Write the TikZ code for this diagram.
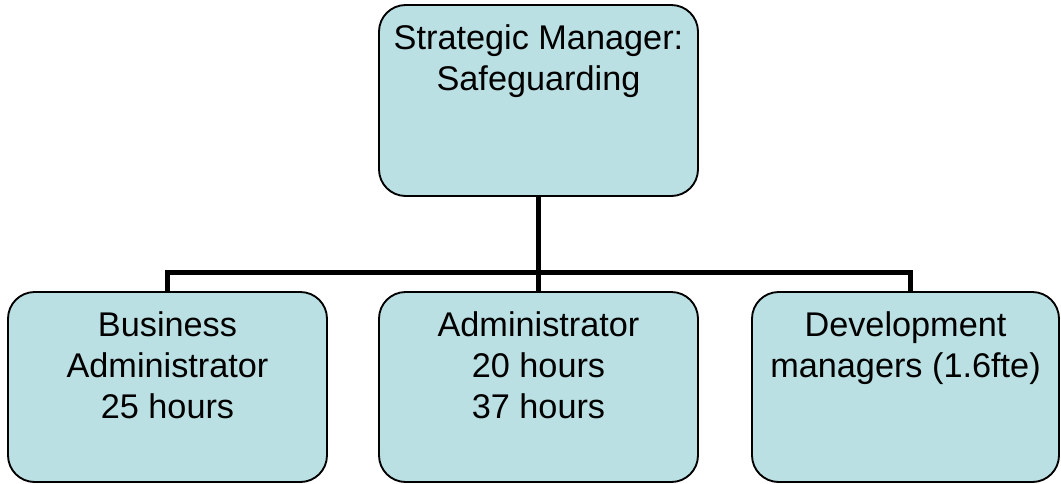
\documentclass[tikz,border=0pt]{standalone}
\usepackage{fontspec}
\setmainfont{Liberation Sans}
\usepackage{tikz}
\definecolor{boxfill}{RGB}{187,224,227}
\definecolor{linec}{HTML}{000000}

\begin{document}
\begin{tikzpicture}[x=0.75pt, y=-0.75pt,
  box/.style={draw=linec, line width=1.4pt, fill=boxfill, rounded corners=20pt,
              minimum width=239.25pt, minimum height=142.5pt, inner sep=0pt},
  txt/.style={anchor=north, yshift=-15pt, inner sep=0pt, align=center,
              font=\fontsize{25.7}{30.8}\selectfont},
  conn/.style={draw=linec, line width=3.8pt}]
\useasboundingbox (0,0) rectangle (1061,483);
\node[box, minimum height=143.25pt, label={[txt]north:Strategic Manager:\\Safeguarding}]
  (sm) at (538.5,100.5) {};
\node[box, label={[txt]north:Business\\Administrator\\25 hours}]
  (ba) at (167.5,387) {};
\node[box, label={[txt]north:Administrator\\20 hours\\37 hours}]
  (adm) at (538.5,387) {};
\node[box, minimum width=230.25pt, label={[txt]north:Development\\managers (1.6fte)}]
  (dev) at (905.5,387) {};
% reporting lines
\draw[conn] (sm.south) -- (adm.north);
\draw[conn] (ba.north) -- ++(0,-19) -| ([xshift=3.4pt]dev.north);
\end{tikzpicture}
\end{document}
